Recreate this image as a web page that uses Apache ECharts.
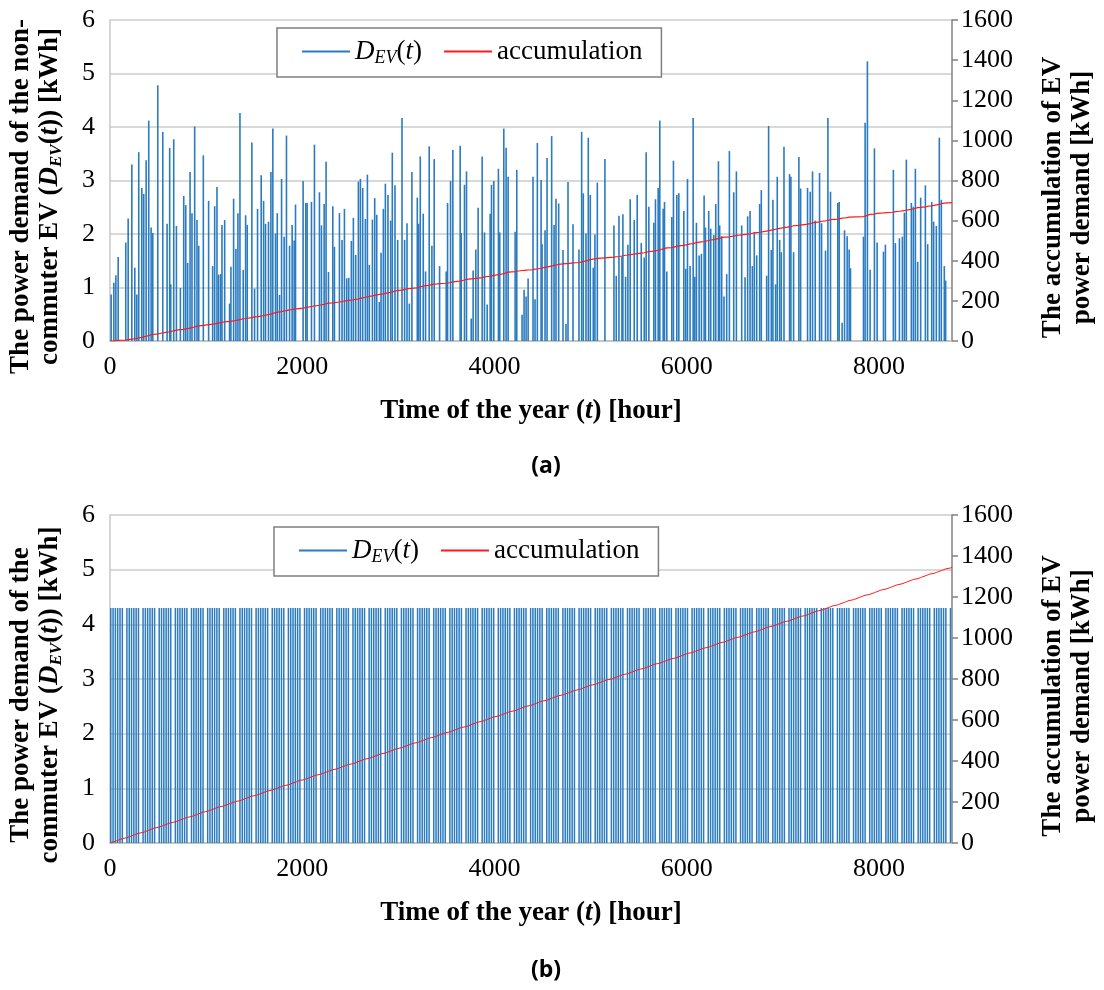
<!DOCTYPE html>
<html><head><meta charset="utf-8">
<script src="https://cdn.jsdelivr.net/npm/echarts@6/dist/echarts.min.js"></script>
<style>html,body{margin:0;padding:0;background:#fff}#c{width:1104px;height:990px}</style>
</head><body><div id="c"></div>
<script>
// ---------- DATA ----------
const yearHours = 8760;
const xTicks = [0, 2000, 4000, 6000, 8000];
const leftTicks = [0, 1, 2, 3, 4, 5, 6];
const rightTicks = [0, 200, 400, 600, 800, 1000, 1200, 1400, 1600];

// (a) non-commuter EV: hour of each charging event
const nonCommuterHours = [
 12,40,61,85,164,189,227,258,279,299,331,351,376,403,428,445,497,549,594,621,
 632,663,691,732,767,788,808,833,853,881,905,923,971,1026,1068,1089,1113,1130,1151,1165,
 1193,1244,1258,1286,1310,1331,1352,1386,1411,1428,1476,1504,1535,1573,1598,1618,1649,1674,1694,1722,
 1740,1764,
 1785,1812,1836,1868,1895,1916,1930,2009,2037,2051,2096,2127,2179,2200,2228,2248,2273,2318,2335,2387,
 2414,2439,2463,2484,2511,2532,2556,2584,2605,2629,2657,2678,2698,2730,2754,2775,2802,2820,2844,2865,
 2892,2920,2937,2965,2993,3038,3065,3090,3114,3141,3197,3211,3228,3259,3283,3321,3349,3373,3429,3498,
 3512,3543,
 3567,3643,3654,3688,3709,3758,3778,3806,3830,3872,3896,3924,3955,3969,3993,4041,4055,4097,4121,4142,
 4215,4232,4287,4308,4329,4350,4401,4422,4446,4485,4495,4526,4547,4595,4620,4640,4668,4713,4744,4765,
 4817,4879,4907,4924,4952,4976,4997,5028,5045,5070,5149,5243,5267,5295,
 5326,5336,5364,5388,5412,5454,5485,5527,5558,5578,5606,5658,5675,5703,5720,5755,5769,5793,5845,5862,
 5897,5918,5970,5990,6008,6035,6067,6084,6101,6129,6153,6181,6195,6229,6250,6281,6302,6330,6343,6364,
 6388,6416,6444,6489,6517,6572,6607,6634,6659,6683,6703,6728,6759,6776,6832,6852,6880,6897,6925,6942,
 6967,6984,7012,7070,
 7084,7112,7167,7185,7257,7285,7309,7337,7382,7403,7444,7469,7496,7572,7586,7617,7642,7669,7690,7704,
 7839,7856,7880,7908,7953,7981,8047,8067,8150,8171,8213,8244,8265,8285,8337,8358,8379,8403,8434,8483,
 8507,8549,8569,8597,8628,8649,8680,8694
];
// (a) demand of each event [kWh]
const nonCommuterDemand = [
 0.87,1.09,1.23,1.57,1.84,2.29,3.30,1.37,0.87,3.53,2.86,2.75,3.38,4.12,2.12,2.02,4.78,3.91,2.19,3.61,
 1.06,3.77,2.15,0.99,2.71,2.54,1.46,3.16,2.39,4.01,2.26,1.78,3.47,2.62,1.40,2.52,2.88,1.24,1.25,2.17,
 2.26,0.70,1.39,2.66,1.72,2.39,4.26,1.33,2.35,2.17,3.71,0.98,2.47,3.10,2.62,2.19,2.23,3.16,3.97,2.01,
 2.39,0.86,
 3.03,1.95,3.84,1.78,2.17,1.88,2.55,2.99,2.58,2.58,2.60,3.67,2.78,2.16,2.56,3.35,1.29,2.52,1.76,2.39,
 1.89,2.47,1.17,1.18,1.87,2.30,1.61,2.98,3.03,2.86,2.28,3.11,1.42,2.27,2.67,2.36,0.73,1.65,2.47,2.94,
 2.73,2.25,3.52,2.91,1.89,4.17,1.89,2.20,0.70,3.16,2.68,2.19,3.45,2.38,1.30,3.64,1.78,3.40,1.40,1.30,
 2.58,2.99,
 3.57,3.65,2.02,2.92,3.17,0.42,1.32,1.71,2.49,3.45,2.03,0.68,2.38,2.92,2.99,3.22,2.03,3.97,3.61,3.07,
 2.04,3.20,0.49,0.96,0.83,1.17,3.07,0.78,3.70,3.01,1.81,2.07,3.42,3.83,2.17,2.66,2.57,1.70,0.32,2.97,
 2.18,1.71,3.91,2.76,2.01,3.80,2.73,1.37,1.99,2.96,3.40,2.16,1.22,2.34,
 1.58,2.37,1.20,1.80,2.65,2.26,2.73,1.83,1.56,3.53,2.51,2.21,2.65,2.86,4.12,2.47,2.60,1.30,2.32,3.37,
 2.73,2.76,2.43,1.35,3.03,1.40,4.17,1.20,2.21,1.60,1.63,2.72,2.12,2.43,2.10,1.98,2.56,3.36,2.16,1.96,
 0.83,1.25,3.55,2.78,3.17,2.16,1.19,2.33,2.43,1.40,2.04,1.60,2.56,2.82,1.22,4.02,1.70,2.64,1.06,3.07,
 1.89,1.66,3.63,3.12,
 3.07,1.66,3.44,2.85,2.86,2.79,3.17,2.25,3.14,2.20,1.69,4.17,2.79,2.58,2.60,0.34,2.07,1.96,1.71,1.36,
 1.95,4.08,5.23,1.33,3.60,1.84,1.67,1.80,3.20,1.83,1.92,1.95,2.40,3.39,2.58,2.51,3.22,1.48,2.68,2.91,
 1.81,2.60,2.23,2.15,3.80,2.64,1.40,1.13
];

// (b) commuter EV: one charge of the same size on six days of every week (seventh day idle)
const commuterWeek = [1, 1, 1, 1, 1, 1, 0];
const commuterCharge = 4.3;     // kWh per charging day
const commuterChargeHour = 8;   // hour of the day of the charge
const daysInYear = 365;

// ---------- BUILD ----------
const nonCommuterPoints = nonCommuterHours.map((h, i) => [h, nonCommuterDemand[i]]);
const commuterPoints = [];
for (let d = 0; d < daysInYear; d++) {
  if (commuterWeek[d % 7]) commuterPoints.push([d * 24 + commuterChargeHour, commuterCharge]);
}
function accumulate(points) {
  const out = [[0, 0]];
  let s = 0;
  points.forEach(p => { s += p[1]; out.push([p[0], +s.toFixed(2)]); });
  out.push([yearHours, +s.toFixed(2)]);
  return out;
}

const serif = 'Liberation Serif';
const titleRich = {
  b:  { fontFamily: serif, fontWeight: 'bold', fontSize: 27, lineHeight: 29, color: '#000' },
  bi: { fontFamily: serif, fontWeight: 'bold', fontStyle: 'italic', fontSize: 27, lineHeight: 29, color: '#000' },
  bs: { fontFamily: serif, fontWeight: 'bold', fontStyle: 'italic', fontSize: 17, lineHeight: 29, verticalAlign: 'bottom', color: '#000' }
};
const legendRich = {
  n:  { fontFamily: serif, fontSize: 27, lineHeight: 31, color: '#000' },
  i:  { fontFamily: serif, fontStyle: 'italic', fontSize: 27, lineHeight: 31, color: '#000' },
  s:  { fontFamily: serif, fontStyle: 'italic', fontSize: 18, lineHeight: 31, verticalAlign: 'bottom', color: '#000' }
};
const tickFont = { fontFamily: serif, fontSize: 26, color: '#000' };
const blue = '#2a7bbf';
const red = '#ff1a1a';

function xAxisFor(g) {
  return {
    gridIndex: g, type: 'value', min: 0, max: yearHours, interval: 2000,
    axisLine: { show: true, lineStyle: { color: '#bfbfbf', width: 1.5 } },
    axisTick: { show: false }, splitLine: { show: false },
    axisLabel: Object.assign({ margin: 13, showMaxLabel: false,
      formatter: v => xTicks.indexOf(v) >= 0 ? String(v) : '' }, tickFont),
    name: '{b|Time of the year (}{bi|t}{b|) [hour]}',
    nameLocation: 'middle', nameGap: 56,
    nameTextStyle: { rich: titleRich }
  };
}
function leftAxisFor(g, name) {
  return {
    gridIndex: g, type: 'value', position: 'left', min: 0, max: 6, interval: 1,
    axisLine: { show: true, lineStyle: { color: '#c8c8c8', width: 1.5 } },
    axisTick: { show: false },
    splitLine: { show: true, lineStyle: { color: '#d9d9d9', width: 2 } },
    axisLabel: Object.assign({ margin: 15, formatter: v => leftTicks.indexOf(v) >= 0 ? String(v) : '' }, tickFont),
    name: name, nameLocation: 'middle', nameRotate: 90, nameGap: 45,
    nameTextStyle: { rich: titleRich, align: 'center', padding: [0, 32, 0, 0] }
  };
}
function rightAxisFor(g) {
  return {
    gridIndex: g, type: 'value', position: 'right', min: 0, max: 1600, interval: 200,
    axisLine: { show: true, lineStyle: { color: '#808080', width: 1.5 } },
    axisTick: { show: true, inside: false, length: 6, lineStyle: { color: '#808080', width: 1.5 } },
    splitLine: { show: false },
    axisLabel: Object.assign({ margin: 9, formatter: v => rightTicks.indexOf(v) >= 0 ? String(v) : '' }, tickFont),
    name: '{b|The accumulation of EV}\n{b|power demand [kWh]}',
    nameLocation: 'middle', nameRotate: 90, nameGap: 87,
    nameTextStyle: { rich: titleRich, align: 'center', padding: [0, 34, 0, 0] }
  };
}
function legendFor(left, top) {
  return {
    left: left, top: top, orient: 'horizontal', icon: 'rect',
    itemWidth: 48, itemHeight: 2, itemGap: 22,
    padding: [10, 19, 10, 25],
    borderColor: '#7f7f7f', borderWidth: 1.5, backgroundColor: '#fff',
    selectedMode: false,
    data: ['DEV', 'accumulation'],
    formatter: n => n === 'DEV' ? '{i|D}{s|EV}{n|(}{i|t}{n|)}' : '{n|accumulation}',
    textStyle: { rich: legendRich }
  };
}

const option = {
  animation: false,
  backgroundColor: '#fff',
  grid: [
    { left: 108, top: 20, width: 844, height: 321 },
    { left: 108, top: 515, width: 844, height: 328 }
  ],
  legend: [legendFor(277, 28), legendFor(274, 527)],
  xAxis: [xAxisFor(0), xAxisFor(1)],
  yAxis: [
    leftAxisFor(0, '{b|The power demand of the non-}\n{b|commuter EV (}{bi|D}{bs|EV}{b|(}{bi|t}{b|)) [kWh]}'),
    rightAxisFor(0),
    leftAxisFor(1, '{b|The power demand of the}\n{b|commuter EV (}{bi|D}{bs|EV}{b|(}{bi|t}{b|)) [kWh]}'),
    rightAxisFor(1)
  ],
  series: [
    { name: 'DEV', type: 'bar', xAxisIndex: 0, yAxisIndex: 0, barWidth: 1.6,
      itemStyle: { color: blue }, data: nonCommuterPoints },
    { name: 'accumulation', type: 'line', xAxisIndex: 0, yAxisIndex: 1, step: 'end',
      showSymbol: false, symbol: 'none', lineStyle: { color: red, width: 1.2 }, itemStyle: { color: red },
      data: accumulate(nonCommuterPoints) },
    { name: 'DEV', type: 'bar', xAxisIndex: 1, yAxisIndex: 2, barWidth: 1.5,
      itemStyle: { color: blue }, data: commuterPoints },
    { name: 'accumulation', type: 'line', xAxisIndex: 1, yAxisIndex: 3, step: 'end',
      showSymbol: false, symbol: 'none', lineStyle: { color: red, width: 1 }, itemStyle: { color: red },
      data: accumulate(commuterPoints) }
  ],
  graphic: [
    { type: 'text', x: 546, y: 466, style: { text: '(a)', align: 'center', verticalAlign: 'middle',
      font: 'bold 23px "Open Sans"', fill: '#000' } },
    { type: 'text', x: 546, y: 970, style: { text: '(b)', align: 'center', verticalAlign: 'middle',
      font: 'bold 23px "Open Sans"', fill: '#000' } }
  ]
};
const chart = echarts.init(document.getElementById('c'));
chart.setOption(option);
</script>
</body></html>
